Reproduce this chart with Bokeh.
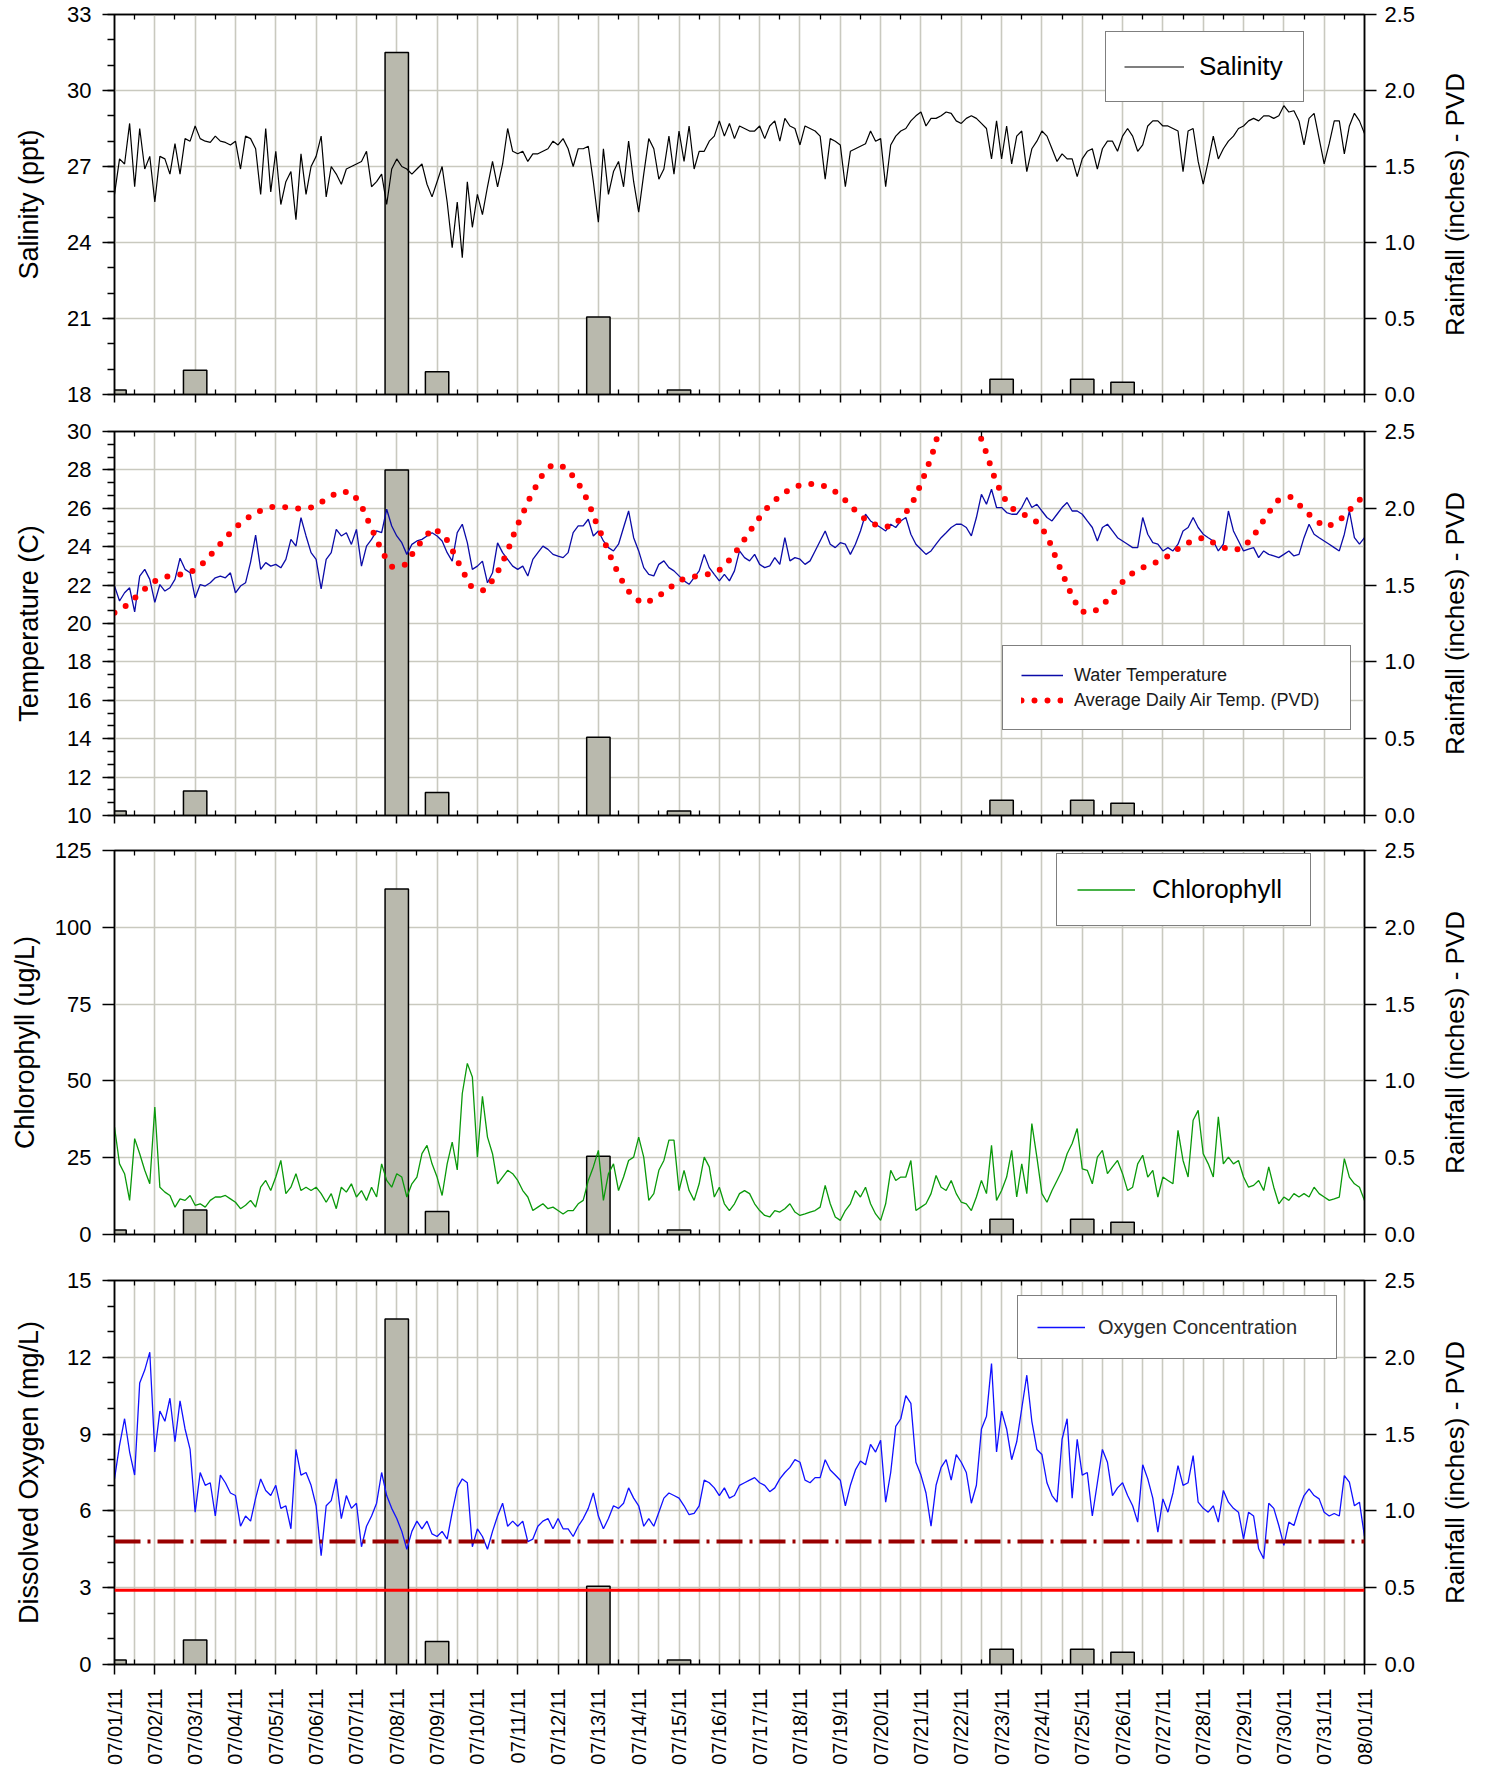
import math
import pandas as pd
from bokeh.plotting import figure
from bokeh.models import (Range1d, LinearAxis, FixedTicker, NumeralTickFormatter,
                          CustomJSTickFormatter, Legend, LegendItem, Span, Grid)
from bokeh.core.properties import value
from bokeh.layouts import column, row
from bokeh.embed import file_html
from bokeh.resources import INLINE

# ---------------------------------------------------------------- data
START = pd.Timestamp("2011-07-01 00:00")
END = pd.Timestamp("2011-08-01 00:00")
SAMPLE_STEP = "3h"   # values below every 3 hours from 07/01 00:00

salinity = [
    25.9, 27.3, 27.1, 28.7, 26.2, 28.5, 26.9, 27.4, 25.6, 27.4,
    27.3, 26.7, 27.9, 26.7, 28.1, 28.0, 28.6, 28.1, 28.0, 27.95,
    28.2, 28.0, 27.95, 27.85, 28.0, 26.9, 28.2, 28.1, 27.7, 25.9,
    28.5, 26.0, 27.6, 25.5, 26.4, 26.8, 24.9, 27.5, 25.9, 27.0,
    27.4, 28.2, 25.8, 27.0, 26.7, 26.3, 26.9, 27.0, 27.1, 27.2,
    27.6, 26.2, 26.4, 26.7, 25.5, 26.9, 27.3, 27.0, 26.9, 26.7,
    26.9, 27.1, 26.3, 25.8, 26.4, 27.0, 25.6, 23.8, 25.6, 23.4,
    26.4, 24.6,
    25.9, 25.1, 26.2, 27.2, 26.2, 27.1, 28.5, 27.6,
    27.5, 27.6, 27.2, 27.5, 27.5, 27.6, 27.7, 28.0, 27.85, 28.1,
    27.7, 27.0, 27.7, 27.7, 27.8, 26.4, 24.8, 27.7, 25.9, 26.8,
    27.2, 26.2, 28.0, 26.4, 25.2, 26.7, 28.1, 27.7, 26.5, 26.9,
    28.2, 26.7, 28.4, 27.2, 28.6, 26.9, 27.6, 27.6, 28.0, 28.2,
    28.8, 28.2, 28.7, 28.1, 28.6, 28.5, 28.4, 28.4, 28.6, 28.1,
    28.6, 28.8, 28.0, 28.9, 28.6, 28.5, 27.85, 28.6, 28.5, 28.4,
    28.2, 26.5, 28.1, 28.0, 27.85, 26.2, 27.6, 27.7, 27.8, 27.9,
    28.4, 28.0, 28.1, 26.2, 27.85, 28.2, 28.4, 28.5, 28.8, 29.0,
    29.15, 28.6, 28.9, 28.9, 29.0, 29.15, 29.1, 28.8, 28.7, 28.9,
    29.0, 28.9, 28.7, 28.5, 27.3, 28.8, 27.3, 28.6, 27.1, 28.2,
    28.4,
    26.8, 27.7, 28.0, 28.4, 28.2, 27.7, 27.2, 27.5, 27.3,
    27.3, 26.6, 27.3, 27.6, 27.7, 26.9, 27.7, 28.0, 28.0, 27.6,
    28.2, 28.5, 28.2, 27.6, 27.85, 28.6, 28.8, 28.8, 28.6, 28.6,
    28.5, 28.4, 26.8, 28.4, 28.5, 27.2, 26.3, 27.2, 28.2, 27.3,
    27.7, 28.0, 28.2, 28.5, 28.6, 28.8, 28.9, 28.8, 29.0, 29.0,
    28.9, 29.0, 29.4, 29.15, 29.2, 28.8, 27.85, 28.9, 29.1, 28.1,
    27.1, 27.9, 28.8, 28.8, 27.5, 28.6, 29.1, 28.8, 28.3,
]

water_temp = [
    21.95, 21.17, 21.6, 21.86, 20.6, 22.47, 22.82, 22.3, 21.1, 22.03,
    21.69, 21.86, 22.3, 23.4, 22.82, 22.64, 21.34, 22.03, 21.95, 22.12,
    22.38, 22.47, 22.38, 22.64, 21.6, 21.95, 22.12, 23.2, 24.6, 22.82,
    23.17, 22.99, 23.08, 22.9, 23.34, 24.38, 24.03, 25.51, 24.56, 23.69,
    23.34, 21.8, 23.34, 23.69, 24.9, 24.56, 24.73, 24.12, 24.9, 22.99,
    24.03, 24.38, 24.82, 24.73, 25.95, 25.08, 24.56, 24.21, 23.6, 24.12,
    24.3, 24.38, 24.56, 24.73, 24.56, 24.3, 23.69, 23.25, 24.73, 25.17,
    24.21, 22.82, 22.99, 23.25, 22.12, 22.64, 24.2, 23.69, 23.34, 22.99,
    22.82, 22.99, 22.47, 23.34, 23.69, 24.03, 23.86, 23.6, 23.51, 23.43,
    23.69, 24.73, 25.08, 25.08, 25.43, 24.56,
    24.82, 24.3, 23.95, 23.78, 24.13, 25.0, 25.86, 24.47, 23.78, 22.91,
    22.56, 22.48, 23.08, 23.26, 22.91, 22.74, 22.48, 22.22, 22.04, 22.39,
    22.74, 23.6, 22.91, 22.56, 22.22, 22.56, 22.22, 22.74, 23.78, 23.43,
    23.26, 23.6, 23.08, 22.91, 23.0, 23.43, 23.08, 24.47, 23.26, 23.43,
    23.35, 23.08, 23.26, 23.78, 24.3, 24.82, 24.13, 23.95, 24.21, 24.13,
    23.6, 24.13, 24.82, 25.69, 25.34, 25.17, 25.0, 24.82, 25.17, 25.0,
    25.34, 25.52, 24.65, 24.13, 23.87, 23.6, 23.78, 24.13, 24.47, 24.73,
    25.0, 25.17, 25.17, 25.0, 24.56, 25.52, 26.73, 26.21, 26.99, 26.04,
    26.04, 25.78, 25.69, 25.69, 26.04, 26.56, 26.04, 26.21, 25.86, 25.52,
    25.34, 25.69, 26.04, 26.3, 25.86, 25.86, 25.69, 25.34, 25.0, 24.3,
    25.0, 25.17, 24.82, 24.47, 24.3, 24.13, 23.95, 23.95, 25.52, 24.65,
    24.21, 24.13, 23.78, 23.95, 23.78, 24.13, 24.82, 25.0, 25.52, 25.0,
    24.65, 24.47, 24.3, 23.78, 24.13, 25.86, 24.82, 24.3, 23.78, 23.87,
    23.95, 23.43, 23.78, 23.6, 23.52, 23.43, 23.6, 23.78, 23.52, 23.6,
    24.47, 25.17, 24.65, 24.47, 24.3, 24.13, 23.95, 23.78, 24.65, 25.86,
    24.47, 24.13, 24.47,
]

# average daily air temperature (PVD): smooth curve, (day offset, deg C)
air_temp_day = [
    0.00, 0.30, 0.62, 0.93, 1.24, 1.56, 1.87, 2.18, 2.47, 2.74, 3.03, 3.36, 3.67, 3.98,
    4.29, 4.60, 4.91, 5.23, 5.55, 5.86, 6.10, 6.24, 6.38, 6.52, 6.67, 6.88, 7.19, 7.42,
    7.63, 7.90, 8.19, 8.36, 8.51, 8.67, 8.85, 9.16, 9.42, 9.58, 9.73, 9.85, 9.96, 10.11,
    10.25, 10.41, 10.58, 10.85, 11.17, 11.45, 11.63, 11.78, 11.89, 12.03, 12.16, 12.29,
    12.43, 12.59, 12.79, 13.08, 13.39, 13.71, 14.02, 14.35, 14.67, 14.98, 15.26, 15.50,
    15.71, 15.92, 16.17, 16.47, 16.79, 17.12, 17.43, 17.75, 18.06, 18.35, 18.68, 19.00,
    19.31, 19.59, 19.79, 19.94, 20.07, 20.19, 20.30, 20.39, 20.50, 20.75, 20.95, 21.20,
    21.43, 21.56, 21.67, 21.76, 21.89, 22.02, 22.26, 22.59, 22.91, 23.12, 23.26, 23.37,
    23.51, 23.64, 23.78, 23.97, 24.29, 24.60, 24.85, 25.11, 25.44, 25.76, 26.07, 26.38,
    26.69, 27.00, 27.32, 27.63, 27.95, 28.21, 28.41, 28.61, 28.84, 29.16, 29.46, 29.76,
    30.05, 30.37, 30.67, 30.97,
]
air_temp = [
    20.56, 20.94, 21.55, 22.14, 22.43, 22.52, 22.64, 23.11, 23.77, 24.43, 25.06, 25.58, 25.93, 26.10,
    26.05, 25.98, 26.05, 26.45, 26.85, 26.85, 26.26, 25.58, 24.94, 24.28, 23.60, 22.96, 23.04, 23.72,
    24.33, 24.97, 24.56, 23.90, 23.25, 22.60, 21.91, 21.72, 22.35, 23.00, 23.67, 24.33, 24.99, 25.63,
    26.33, 26.97, 27.65, 28.26, 28.14, 27.48, 26.84, 26.18, 25.52, 24.86, 24.21, 23.54,
    22.88, 22.22, 21.56, 21.05, 21.26, 21.76, 22.25, 22.44, 22.53, 22.74, 23.33, 23.99,
    24.65, 25.31, 25.99, 26.59, 27.06, 27.27, 27.27, 27.06, 26.56, 25.93, 25.31, 25.03,
    25.08, 25.66, 26.30, 26.98, 27.64, 28.30, 28.96, 29.62, 30.30, 31.30, 31.60, 31.20,
    29.97, 29.25, 28.59, 27.95, 27.29, 26.65, 26.00, 25.64, 25.24, 24.58, 23.92, 23.26,
    22.60, 21.94, 21.28, 20.62, 20.60, 21.16, 21.78, 22.44, 22.86, 23.12, 23.43, 23.90,
    24.27, 24.47, 24.13, 23.85, 23.88, 24.44, 25.08, 25.74, 26.39, 26.59, 26.02, 25.40,
    25.01, 25.34, 26.00, 26.63,
]

chlorophyll = [
    35.0, 23.0, 19.8, 11.1, 31.2, 26.3, 20.9, 16.5, 41.5, 15.4,
    13.8, 12.7, 8.9, 11.6, 11.1, 12.7, 9.5, 10.0, 8.9, 11.1,
    12.2, 12.2, 12.7, 11.6, 10.5, 8.4, 9.5, 11.1, 8.9, 15.4,
    17.6, 14.3, 18.7, 24.1, 13.3, 15.4, 19.8, 14.3, 15.4, 14.3,
    15.4, 13.3, 10.5, 13.3, 8.4, 15.4, 13.8, 16.5, 12.2, 14.3,
    11.1, 15.4, 12.2, 23.0, 17.6, 15.4, 19.8, 18.7, 12.2, 16.5,
    18.7, 26.3, 29.0, 23.0, 18.7, 12.7, 23.0, 30.1, 21.0, 45.9,
    55.7, 51.3, 25.2, 45.0, 31.7, 26.3, 16.5, 18.7, 20.9, 19.8,
    17.6, 14.3, 12.2, 7.8, 8.9, 10.0, 8.4, 8.9, 7.8, 6.7,
    7.8, 7.8, 10.0, 11.1, 17.6, 22.0, 27.4, 11.1, 19.8, 23.0,
    14.3, 18.7, 24.1, 25.2, 31.7, 25.2, 11.1, 13.3, 20.9, 24.1,
    30.7, 30.7, 14.3, 20.9, 14.3, 11.1, 16.5, 25.2, 22.0, 12.2,
    15.4, 10.0, 7.8, 10.0,
    13.3, 14.3, 13.3, 10.0, 7.8, 6.2, 5.7, 7.8, 7.3, 8.4,
    10.0, 7.3, 6.2, 6.7, 7.3, 7.8, 8.9, 16.0, 10.0, 5.7,
    4.6, 7.8, 10.0, 14.3, 12.2, 15.4, 10.0, 6.7, 4.6, 10.0,
    20.9, 17.6, 18.7, 18.7, 24.1, 7.8, 8.9, 10.0, 13.3, 19.2,
    15.4, 14.3, 17.6, 13.3, 10.5, 10.0, 7.8, 12.2, 17.6, 13.3,
    29.0, 11.1, 14.3, 18.7, 27.4, 12.2, 23.0, 13.3, 36.1, 25.2,
    13.3, 10.5, 14.3, 17.6, 20.9, 26.3, 29.6, 34.5, 21.4, 20.9,
    16.5, 25.2, 27.4, 19.8, 22.0, 24.1, 19.8, 14.3, 15.4, 23.0,
    25.8, 18.7, 20.9, 12.2, 18.7, 17.6, 16.5, 33.9, 24.1, 18.7,
    37.2, 40.4, 26.3, 23.0, 18.7, 38.3, 23.0, 25.2, 23.0, 24.1,
    18.7, 15.4, 16.0, 17.6, 14.3, 22.0, 15.4, 10.0, 12.2, 11.1,
    13.3, 12.2, 13.3, 12.2, 15.4, 13.3, 12.2, 11.1, 11.6, 12.2,
    24.7, 18.7, 16.5, 15.4, 11.1,
]

oxygen = [
    7.25, 8.56, 9.6, 8.3, 7.4, 11.0, 11.5, 12.2, 8.3, 9.9,
    9.5, 10.4, 8.7, 10.3, 9.2, 8.4, 5.95, 7.5, 7.0, 7.1,
    5.8, 7.4, 7.1, 6.7, 6.6, 5.4, 5.8, 5.6, 6.5, 7.25,
    6.8, 6.6, 7.0, 6.1, 6.2, 5.3, 8.4, 7.4, 7.5, 7.0,
    6.2, 4.25, 6.2, 6.4, 7.25, 5.7, 6.6, 6.1, 6.3, 4.6,
    5.4, 5.8, 6.3, 7.5, 6.6, 6.1, 5.7, 5.2, 4.5, 5.2,
    5.6, 5.3, 5.6, 5.1, 5.0, 5.2, 4.9, 5.95, 6.9, 7.25,
    7.1, 4.6, 5.3, 5.0, 4.5, 5.2, 5.8, 6.3, 5.4, 5.6,
    5.4, 5.6, 4.8, 4.9, 5.4, 5.6, 5.7, 5.3, 5.7, 5.3,
    5.3, 5.0, 5.4, 5.7, 6.1, 6.7, 5.8, 5.3, 5.7, 6.2,
    6.1, 6.3, 6.9, 6.5, 6.2, 5.4, 5.7,
    5.4, 5.95, 6.5, 6.7, 6.6, 6.5, 6.2, 5.85, 5.9, 6.2,
    7.2, 7.1, 6.9, 6.6, 6.9, 6.5, 6.6, 7.0, 7.1, 7.2,
    7.3, 7.1, 7.0, 6.75, 6.9, 7.25, 7.5, 7.7, 8.0, 7.9,
    7.2, 7.1, 7.3, 7.3, 8.0, 7.6, 7.4, 7.2, 6.2, 7.0,
    7.6, 7.95, 7.8, 8.6, 8.3, 8.76, 6.34, 7.5, 9.3, 9.6,
    10.5, 10.2, 7.9, 7.4, 6.7, 5.4, 7.0, 7.7, 8.0, 7.2,
    8.2, 7.9, 7.5, 6.3, 7.0, 9.2, 9.7, 11.76, 8.3, 9.9,
    9.2, 8.0, 8.7, 10.0, 11.3, 9.5, 8.4, 8.2, 7.1, 6.6,
    6.34, 8.8, 9.6, 6.5, 8.8, 7.4, 7.5, 5.8, 7.1, 8.4,
    7.9, 6.6, 6.9, 7.1, 6.6, 6.2, 5.56, 7.8, 7.25, 6.5,
    5.17, 6.47, 5.95, 6.7, 7.77, 7.0, 7.1, 8.16, 6.34, 6.1,
    5.95, 6.2, 5.56, 6.8, 6.34, 6.1, 5.95, 4.91, 5.95, 5.8,
    4.52, 4.13, 6.3, 6.1, 5.43, 4.65, 5.56, 5.43, 6.08, 6.6,
    6.86, 6.6, 6.47, 5.95, 5.8, 5.9, 5.8, 7.38, 7.12, 6.2,
    6.34, 5.0,
]

rain_dates = ["2011-07-01", "2011-07-03", "2011-07-08", "2011-07-09", "2011-07-13",
              "2011-07-15", "2011-07-23", "2011-07-25", "2011-07-26"]
rain_inches = [0.03, 0.16, 2.25, 0.15, 0.51, 0.03, 0.10, 0.10, 0.08]

do_line_dashdot = 4.8   # mg/L
do_line_solid = 2.9     # mg/L

RAIN_LABEL = "Rainfall (inches) - PVD"

# ---------------------------------------------------------------- styling
FONT = "Liberation Sans"
GRID = "#c9c9bf"
BAR_FILL = "#b9b9ad"
FRAME_W = 1250
DAY_MS = 86400000.0


def ms(ts):
    return ts.value / 1e6


t_samples = pd.date_range(START, periods=len(salinity), freq=SAMPLE_STEP)
t_air = START + pd.to_timedelta(air_temp_day, unit="D")
t_rain = pd.to_datetime(rain_dates)
n_days = int((END - START) / pd.Timedelta(days=1))
day_ticks = [ms(START + pd.Timedelta(days=d)) for d in range(n_days + 1)]
half_ticks = [ms(START + pd.Timedelta(hours=12 + 24 * d)) for d in range(n_days)]

date_fmt = CustomJSTickFormatter(code="""
    const d = new Date(tick);
    const p = (n) => (n < 10 ? '0' : '') + n;
    return p(d.getUTCMonth() + 1) + '/' + p(d.getUTCDate()) + '/' + p(d.getUTCFullYear() % 100);
""")
blank_fmt = CustomJSTickFormatter(code="return '';")


def panel(y0, y1, ticks, minor, label, b_top, b_bottom, frame_h=384, last=False,
          label_standoff=20):
    p = figure(x_axis_type=None, y_axis_type=None,
               x_range=Range1d(ms(START), ms(END)), y_range=Range1d(y0, y1),
               frame_width=FRAME_W, frame_height=frame_h,
               min_border_left=114, min_border_right=55,
               min_border_top=b_top, min_border_bottom=b_bottom,
               toolbar_location=None, output_backend="svg",
               background_fill_color="white", border_fill_color="white")
    p.outline_line_color = "black"
    p.outline_line_width = 1.5
    p.extra_y_ranges = {"rain": Range1d(0, 2.5)}

    xg_ticks = sorted(day_ticks + half_ticks) if last else day_ticks
    p.add_layout(Grid(dimension=0, ticker=FixedTicker(ticks=xg_ticks),
                      grid_line_color=GRID, grid_line_width=1.6))
    p.add_layout(Grid(dimension=1, ticker=FixedTicker(ticks=ticks),
                      grid_line_color=GRID, grid_line_width=1.6))

    left = LinearAxis(ticker=FixedTicker(ticks=ticks, minor_ticks=minor), axis_label=label)
    left.major_tick_out = 12
    left.major_tick_in = 0
    left.minor_tick_out = 7
    left.minor_tick_in = 0
    left.major_label_standoff = 11
    left.axis_label_standoff = label_standoff
    left.axis_label_text_font_size = "27px"
    p.add_layout(left, "left")

    right = LinearAxis(y_range_name="rain",
                       ticker=FixedTicker(ticks=[0, 0.5, 1.0, 1.5, 2.0, 2.5]),
                       formatter=NumeralTickFormatter(format="0.0"))
    right.major_tick_out = 12
    right.major_tick_in = 0
    right.major_label_standoff = 8
    p.add_layout(right, "right")

    bottom = LinearAxis(ticker=FixedTicker(ticks=day_ticks, minor_ticks=half_ticks),
                        formatter=date_fmt if last else blank_fmt)
    bottom.major_tick_out = 10 if last else 8
    bottom.major_tick_in = 0
    bottom.minor_tick_in = 5
    bottom.minor_tick_out = 0
    if last:
        bottom.major_label_orientation = math.pi / 2
        bottom.major_label_standoff = 14
        bottom.major_label_text_font_size = "20px"
    else:
        bottom.major_label_standoff = 0
    p.add_layout(bottom, "below")

    top = LinearAxis(ticker=FixedTicker(ticks=day_ticks, minor_ticks=half_ticks),
                     formatter=blank_fmt)
    top.major_tick_out = 0
    top.major_tick_in = 0
    top.minor_tick_in = 5
    top.minor_tick_out = 0
    top.major_label_standoff = 0
    p.add_layout(top, "above")

    for ax in (left, right, bottom, top):
        ax.axis_line_color = "black"
        ax.axis_line_width = 1.5
        ax.major_tick_line_color = "black"
        ax.major_tick_line_width = 1.5
        ax.minor_tick_line_color = "black"
        ax.minor_tick_line_width = 1.3
        ax.major_label_text_font = FONT
        ax.major_label_text_color = "black"
        ax.axis_label_text_font = FONT
        ax.axis_label_text_font_style = "normal"
        ax.axis_label_text_color = "black"
        if ax is left or ax is right:
            ax.major_label_text_font_size = "22px"

    p.vbar(x=[ms(t) for t in t_rain], top=rain_inches, bottom=0, width=0.58 * DAY_MS,
           y_range_name="rain", fill_color=BAR_FILL, line_color="black", line_width=1.5)

    # strip holding the right-hand (rainfall) axis title, reading bottom-to-top
    strip = figure(x_axis_type=None, y_axis_type=None, x_range=Range1d(0, 1),
                   y_range=Range1d(0, 2.5), frame_width=2, frame_height=frame_h,
                   min_border_left=53, min_border_right=0,
                   min_border_top=b_top, min_border_bottom=b_bottom,
                   toolbar_location=None, output_backend="svg",
                   background_fill_color="white", border_fill_color="white")
    strip.outline_line_color = None
    title_axis = LinearAxis(ticker=FixedTicker(ticks=[]), axis_label=RAIN_LABEL)
    title_axis.axis_line_color = None
    title_axis.major_tick_line_color = None
    title_axis.minor_tick_line_color = None
    title_axis.major_tick_out = 0
    title_axis.minor_tick_out = 0
    title_axis.major_label_standoff = 0
    title_axis.axis_label_standoff = 3
    title_axis.axis_label_text_font = FONT
    title_axis.axis_label_text_font_size = "26px"
    title_axis.axis_label_text_font_style = "normal"
    title_axis.axis_label_text_color = "black"
    strip.add_layout(title_axis, "left")
    return p, strip


def add_legend(p, items, loc, pad, gw, gh, standoff, lw, font_size, color="black", spacing=0):
    lg = Legend(items=items, location=loc, orientation="vertical", margin=0, padding=pad,
                spacing=spacing, glyph_width=gw, glyph_height=gh, label_standoff=standoff,
                label_width=lw, label_height=gh, label_text_font=FONT,
                label_text_font_size=font_size, label_text_color=color,
                border_line_color="black", border_line_width=1.5,
                background_fill_color="white", background_fill_alpha=1.0)
    p.add_layout(lg)


# ---- panel 1: salinity
p1, s1 = panel(18, 33, list(range(18, 34, 3)), list(range(18, 34, 1)), "Salinity (ppt)",
               14, 23, frame_h=380)
r_sal = p1.line([ms(t) for t in t_samples], salinity, line_color="black", line_width=1.2)
add_legend(p1, [LegendItem(label=value("Salinity"), renderers=[r_sal])],
           (991, 292), 18, 60, 33, 15, 86, "26px")

# ---- panel 2: temperature
p2, s2 = panel(10, 30, list(range(10, 31, 2)), [10 + k * 2 / 3 for k in range(31)],
               "Temperature (C)", 14, 21)
r_wt = p2.line([ms(t) for t in t_samples], water_temp, line_color="#0b0ba8", line_width=1.3)
r_air = p2.line([ms(t) for t in t_air], air_temp, line_color="#ff0000", line_width=6,
                line_dash="0 13", line_cap="round")
add_legend(p2, [LegendItem(label=value("Water Temperature"), renderers=[r_wt]),
                LegendItem(label=value("Average Daily Air Temp. (PVD)"), renderers=[r_air])],
           (888, 85), 18, 42, 22, 11, 258, "18px", color="#1a1a1a", spacing=3)

# ---- panel 3: chlorophyll (wider tick labels, so a shorter title standoff)
p3, s3 = panel(0, 125, list(range(0, 126, 25)), [], "Chlorophyll (ug/L)", 14, 32,
               label_standoff=12)
r_chl = p3.line([ms(t) for t in t_samples], chlorophyll, line_color="#0a990a", line_width=1.3)
add_legend(p3, [LegendItem(label=value("Chlorophyll"), renderers=[r_chl])],
           (942, 308), 20, 58, 27, 17, 138, "26px")

# ---- panel 4: dissolved oxygen
p4, s4 = panel(0, 15, list(range(0, 16, 3)), list(range(0, 16, 1)), "Dissolved Oxygen (mg/L)",
               14, 104, last=True)
p4.add_layout(Span(location=do_line_dashdot, dimension="width", line_color="#990000",
                   line_width=4, line_dash="26 7 3 7"))
p4.add_layout(Span(location=do_line_solid, dimension="width", line_color="#ff0000",
                   line_width=3))
r_do = p4.line([ms(t) for t in t_samples], oxygen, line_color="#1010ff", line_width=1.3)
add_legend(p4, [LegendItem(label=value("Oxygen Concentration"), renderers=[r_do])],
           (903, 305), 19, 48, 24, 13, 219, "20px", color="#2a2a2a")

layout = column(row(p1, s1, spacing=0), row(p2, s2, spacing=0),
                row(p3, s3, spacing=0), row(p4, s4, spacing=0), spacing=0)
open("out.html", "w").write(file_html(layout, INLINE, title="Water quality July 2011"))
